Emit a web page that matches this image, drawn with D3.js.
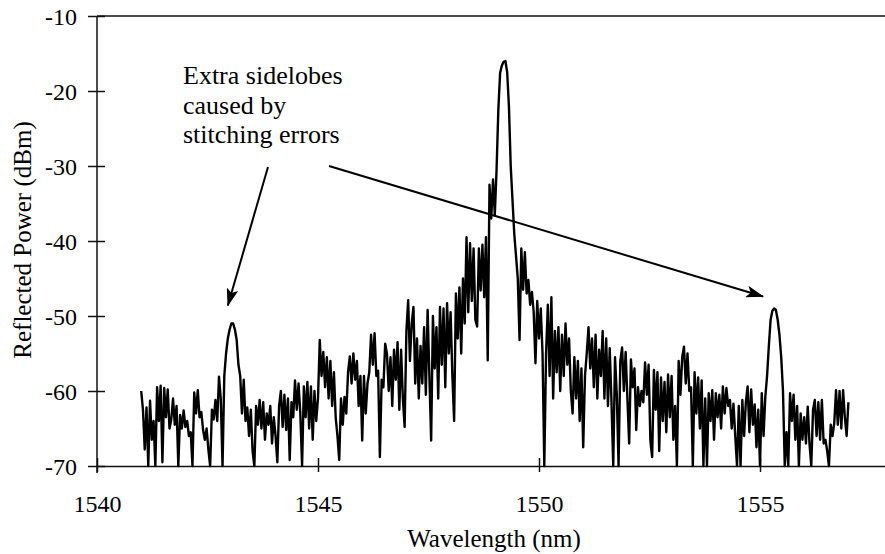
<!DOCTYPE html>
<html><head><meta charset="utf-8">
<script src="https://cdn.jsdelivr.net/npm/d3@7/dist/d3.min.js"></script>
</head><body style="margin:0">
<svg id="chart" width="885" height="554"></svg>
<script>
// Reflection spectrum of the grating, sampled every 0.04 nm from 1541.00 nm
const wlStart = 1541.0;
const wlStep = 0.04;
const power = [
  -60.0, -62.5, -67.8, -62.2, -70, -61.3, -66.5, -64.0, -70, -59.5,
  -64.0, -59.3, -69.5, -59.6, -63.5, -59.8, -65.0, -63.8, -61.0, -64.5,
  -62.0, -70, -63.2, -65.0, -62.6, -64.8, -64.0, -66.0, -65.5, -70,
  -60.2, -63.0, -59.9, -63.5, -62.8, -65.2, -66.5, -65.0, -67.8, -70,
  -62.5, -63.8, -61.2, -64.0, -58.1, -61.0, -70, -58.0, -55.0, -53.0,
  -51.8, -51.0, -51.0, -51.8, -53.2, -56.5, -58.0, -63.0, -58.5, -64.0,
  -62.2, -66.0, -62.5, -68.0, -70, -62.0, -64.5, -61.2, -65.0, -61.5,
  -66.5, -63.0, -64.5, -62.0, -67.0, -63.5, -66.0, -69.5, -62.0, -60.0,
  -64.8, -60.5, -65.2, -61.0, -69.2, -61.5, -63.5, -58.6, -62.5, -59.0,
  -63.0, -70, -59.4, -63.5, -58.8, -65.0, -59.4, -66.5, -60.0, -64.0,
  -61.0, -53.2, -58.0, -54.8, -59.5, -55.5, -61.0, -56.0, -62.0, -57.5,
  -63.5, -66.0, -69.2, -61.0, -64.5, -60.8, -63.0, -57.5, -55.4, -59.0,
  -55.0, -58.5, -56.0, -62.0, -58.0, -66.6, -58.0, -63.0, -59.0, -57.5,
  -52.5, -56.5, -52.3, -58.0, -57.3, -68.8, -58.5, -59.5, -53.7, -55.0,
  -60.0, -55.5, -62.0, -54.5, -58.5, -53.5, -62.5, -54.5, -61.0, -64.8,
  -52.0, -47.9, -56.0, -51.0, -48.8, -59.0, -53.0, -61.0, -54.0, -59.0,
  -51.5, -60.5, -49.2, -58.0, -66.6, -50.0, -57.0, -51.5, -61.0, -48.8,
  -56.5, -49.0, -59.5, -48.3, -55.0, -49.5, -58.0, -64.0, -47.0, -53.0,
  -46.2, -55.0, -45.0, -51.0, -39.5, -49.5, -40.3, -48.0, -41.0, -50.5,
  -51.4, -41.0, -46.6, -40.5, -47.5, -39.5, -55.9, -32.5, -37.0, -31.8,
  -36.5, -30.5, -22.5, -17.6, -16.6, -16.1, -16.0, -17.5, -22.1, -30.0,
  -34.5, -39.0, -42.0, -45.0, -53.2, -41.0, -46.5, -41.5, -47.0, -45.2,
  -48.5, -46.8, -49.5, -56.3, -48.0, -53.0, -49.0, -55.0, -70, -55.0,
  -48.5, -58.0, -47.5, -61.0, -52.0, -57.5, -51.5, -60.0, -52.5, -58.0,
  -51.0, -56.5, -53.0, -60.0, -63.0, -55.5, -61.0, -56.0, -64.0, -57.0,
  -67.5, -58.0, -55.0, -51.5, -57.0, -53.0, -59.5, -52.5, -61.0, -54.5,
  -58.0, -52.0, -61.0, -53.0, -62.0, -54.3, -61.5, -70, -55.5, -60.5,
  -70, -56.0, -54.2, -60.0, -54.8, -61.0, -67.0, -55.8, -59.5, -57.0,
  -65.2, -59.5, -62.0, -60.0, -61.5, -56.2, -60.5, -56.5, -66.6, -68.8,
  -57.2, -62.5, -57.5, -68.0, -58.2, -64.0, -58.8, -65.5, -57.8, -63.5,
  -58.0, -66.5, -62.0, -70, -56.0, -60.5, -55.5, -54.1, -59.0, -55.0,
  -60.0, -59.5, -70, -57.5, -63.0, -58.2, -65.0, -58.6, -70, -61.0,
  -70, -60.3, -64.0, -59.9, -66.5, -60.3, -63.5, -60.5, -65.0, -59.4,
  -63.0, -59.6, -62.0, -61.2, -65.0, -61.7, -66.0, -70, -62.0, -70,
  -61.2, -66.0, -61.5, -59.4, -65.5, -59.8, -64.5, -61.8, -67.5, -62.5,
  -70, -60.3, -66.0, -60.8, -58.0, -54.0, -50.5, -49.3, -49.0, -49.2,
  -50.5, -52.5, -55.5, -60.0, -70, -65.5, -70, -60.3, -64.0, -60.5,
  -66.5, -62.0, -70, -63.0, -66.5, -63.5, -67.0, -62.1, -67.0, -70,
  -62.5, -61.2, -66.0, -61.5, -66.5, -61.2, -67.0, -66.5, -68.0, -70,
  -64.5, -66.0, -64.3, -59.9, -64.5, -60.0, -65.0, -59.9, -63.5, -66.0,
  -61.5
];

const xTicks = [1540, 1545, 1550, 1555];
const yTicks = [-70, -60, -50, -40, -30, -20, -10];
const xTitle = "Wavelength (nm)";
const yTitle = "Reflected Power (dBm)";
const noteLines = ["Extra sidelobes", "caused by", "stitching errors"];
// Sidelobes the note points at: [wavelength, power] of each arrow tip
const noteTargets = [[1542.96, -48.6], [1555.07, -47.4]];

const FONT = "Liberation Serif";

const svg = d3.select("#chart");
svg.append("rect").attr("width", 885).attr("height", 554).attr("fill", "#fff");

const x = d3.scaleLinear().domain([1540, 1560]).range([97, 981]);
const y = d3.scaleLinear().domain([-70, -10]).range([466, 16]);

const axisStroke = "#111";

// top frame line at -10 dBm
svg.append("line")
  .attr("x1", x(1540)).attr("x2", x(1560))
  .attr("y1", y(-10)).attr("y2", y(-10))
  .attr("stroke", axisStroke).attr("stroke-width", 1.6);

// y axis: ticks cross the axis line
const yAxis = svg.append("g")
  .attr("transform", `translate(${x(1540)},0)`)
  .call(d3.axisLeft(y).tickValues(yTicks).tickSizeInner(9).tickSizeOuter(0)
    .tickPadding(11).tickFormat(d => String(d)));
yAxis.attr("font-family", FONT).attr("font-size", 24);
yAxis.selectAll(".tick").append("line").attr("x2", 8);
yAxis.select(".domain").attr("d", `M0,${y(-70) + 7}V${y(-10)}`);
yAxis.selectAll("line, path").attr("stroke", axisStroke).attr("stroke-width", 1.5);
yAxis.selectAll("text").attr("dy", "0.36em").attr("fill", "#000")
  .attr("font-family", FONT).attr("font-size", 24);

// x axis
const xAxis = svg.append("g")
  .attr("transform", `translate(0,${y(-70)})`)
  .call(d3.axisBottom(x).tickValues(xTicks).tickSizeInner(6).tickSizeOuter(0)
    .tickPadding(23).tickFormat(d => String(d)));
xAxis.attr("font-family", FONT).attr("font-size", 24);
xAxis.selectAll(".tick").append("line").attr("y2", -8);
xAxis.selectAll("line, path").attr("stroke", axisStroke).attr("stroke-width", 1.5);
xAxis.selectAll("text").attr("fill", "#000")
  .attr("font-family", FONT).attr("font-size", 24);

// axis titles
svg.append("text")
  .attr("x", 494).attr("y", 547)
  .attr("text-anchor", "middle")
  .attr("font-family", FONT).attr("font-size", 25)
  .text(xTitle);
svg.append("text")
  .attr("transform", "translate(31,240) rotate(-90)")
  .attr("text-anchor", "middle")
  .attr("font-family", FONT).attr("font-size", 25)
  .text(yTitle);

// spectrum trace
const line = d3.line()
  .x((d, i) => x(wlStart + i * wlStep))
  .y(d => y(d));
svg.append("path")
  .datum(power)
  .attr("d", line)
  .attr("fill", "none")
  .attr("stroke", "#000")
  .attr("stroke-width", 2.4)
  .attr("stroke-linejoin", "round");

// annotation text
const note = svg.append("text")
  .attr("font-family", FONT).attr("font-size", 26);
noteLines.forEach((t, k) => {
  note.append("tspan").attr("x", 183).attr("y", 84 + k * 29.5).text(t);
});

// arrows from the note to the sidelobes
svg.append("defs").append("marker")
  .attr("id", "head")
  .attr("markerUnits", "userSpaceOnUse")
  .attr("viewBox", "0 0 18 12")
  .attr("markerWidth", 18).attr("markerHeight", 12)
  .attr("refX", 17).attr("refY", 6)
  .attr("orient", "auto")
  .append("path")
  .attr("d", "M0,0 L18,6 L0,12 L4,6 Z")
  .attr("fill", "#000");

const tails = [[268, 167], [329, 166]];
noteTargets.forEach((t, k) => {
  svg.append("line")
    .attr("x1", tails[k][0]).attr("y1", tails[k][1])
    .attr("x2", x(t[0])).attr("y2", y(t[1]))
    .attr("stroke", "#000").attr("stroke-width", 2)
    .attr("marker-end", "url(#head)");
});
</script>
</body>
</html>
